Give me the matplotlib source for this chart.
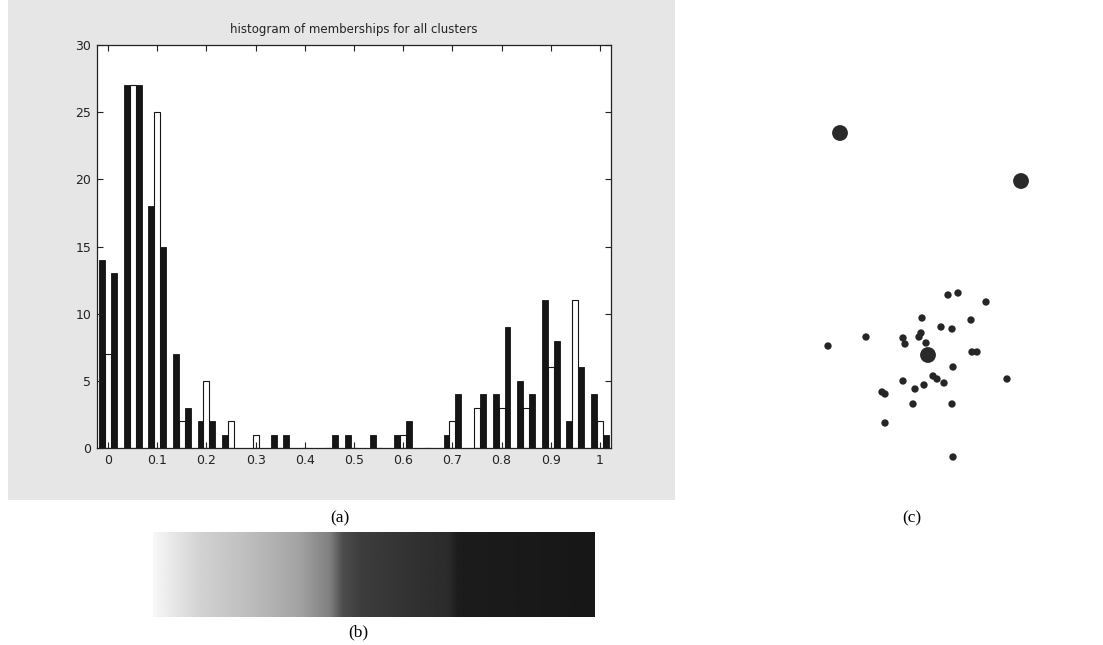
import numpy as np
import matplotlib
matplotlib.use("Agg")
import matplotlib.pyplot as plt
from matplotlib.patches import Rectangle

# histogram of memberships, 21 bins, three clusters
bin_centers = [round(0.05 * i, 2) for i in range(21)]
cluster1 = [14, 27, 18, 7, 2, 1, 0, 1, 0, 0, 1, 1, 1, 0, 1, 0, 4, 5, 11, 2, 4]
cluster2 = [7, 27, 25, 2, 5, 2, 1, 0, 0, 0, 0, 0, 1, 0, 2, 3, 3, 3, 6, 11, 2]
cluster3 = [13, 27, 15, 3, 2, 0, 0, 1, 0, 1, 0, 0, 2, 0, 4, 4, 9, 4, 8, 6, 1]
xticks = [round(0.1 * i, 1) for i in range(11)]
xtick_labels = ["0", "0.1", "0.2", "0.3", "0.4", "0.5", "0.6", "0.7", "0.8", "0.9", "1"]
yticks = [0, 5, 10, 15, 20, 25, 30]

# gray-level stops of the membership strip (b), position 0..1 -> gray
strip_pos = [0.0, 0.05, 0.11, 0.22, 0.33, 0.40, 0.43, 0.47, 0.60, 0.67, 0.69, 1.0]
strip_gray = [0.97, 0.90, 0.82, 0.74, 0.64, 0.50, 0.30, 0.24, 0.19, 0.17, 0.11, 0.09]

# point positions in panel (c)
pts_x = [958, 948, 986, 922, 971, 941, 952, 866, 828, 903, 905, 921, 919, 926,
         972, 977, 953, 1007, 933, 937, 944, 903, 924, 915, 882, 885, 913, 952,
         885, 953]
pts_y = [293, 295, 302, 318, 320, 327, 329, 337, 346, 338, 344, 333, 337, 343,
         352, 352, 367, 379, 376, 379, 383, 381, 385, 389, 392, 394, 404, 404,
         423, 457]
big_x = [840, 1021, 928]
big_y = [133, 181, 355]

W, H = 1103, 645
fig = plt.figure(figsize=(W / 100, H / 100), dpi=100)
fig.patch.set_facecolor("white")

def px_axes(x0, y0, x1, y1, **kw):
    return fig.add_axes([x0 / W, 1 - y1 / H, (x1 - x0) / W, (y1 - y0) / H], **kw)

# gray backdrop of the matlab window
bg = px_axes(0, 0, W, H, zorder=-1)
bg.set_xlim(0, W)
bg.set_ylim(H, 0)
bg.axis("off")
bg.add_patch(Rectangle((8, 0), 667, 500, facecolor="#e6e6e6", edgecolor="none"))

ax = px_axes(97, 45, 611, 448)
ax.set_facecolor("white")
x = np.array(bin_centers)
bw = 0.012
ax.bar(x - bw, cluster1, width=bw, color="#151515", edgecolor="#151515", linewidth=0.6)
ax.bar(x, cluster2, width=bw, color="white", edgecolor="#151515", linewidth=0.8)
ax.bar(x + bw, cluster3, width=bw, color="#151515", edgecolor="#151515", linewidth=0.6)
ax.set_xlim(-0.0225, 1.0225)
ax.set_ylim(0, 30)
ax.set_xticks(xticks)
ax.set_xticklabels(xtick_labels)
ax.set_yticks(yticks)
ax.tick_params(direction="in", length=4, top=True, right=True, labelsize=9,
               colors="#222222", pad=4)
for s in ax.spines.values():
    s.set_color("#222222")
    s.set_linewidth(0.9)
ax.set_title("histogram of memberships for all clusters", fontsize=8.5,
             color="#222222", pad=9)

serif = "Liberation Serif"
fig.text(340 / W, 1 - 518 / H, "(a)", ha="center", va="center", fontsize=12.5, family=serif)
fig.text(358 / W, 1 - 632 / H, "(b)", ha="center", va="center", fontsize=12.5, family=serif)
fig.text(912 / W, 1 - 518 / H, "(c)", ha="center", va="center", fontsize=12.5, family=serif)

# membership strip (b)
axb = px_axes(153, 532, 595, 617)
grid = np.linspace(0, 1, 600)
row = np.interp(grid, strip_pos, strip_gray)
axb.imshow(np.tile(row, (20, 1)), cmap="gray", vmin=0, vmax=1, aspect="auto",
           interpolation="bilinear")
axb.axis("off")

# scatter panel (c)
axc = px_axes(780, 100, 1060, 480)
axc.scatter(pts_x, pts_y, s=28, color="#262626", edgecolors="none")
axc.scatter(big_x, big_y, s=130, color="#2a2a2a", edgecolors="none")
axc.set_xlim(780, 1060)
axc.set_ylim(480, 100)
axc.axis("off")

fig.savefig("out.png", dpi=100)
